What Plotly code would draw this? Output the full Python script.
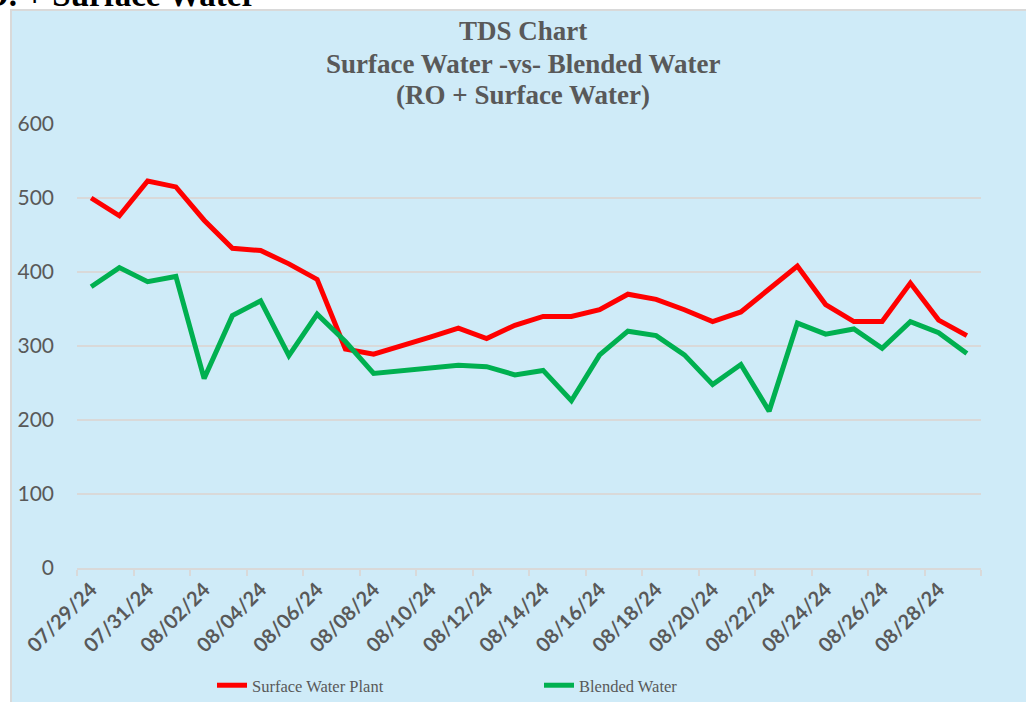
import plotly.graph_objects as go

dates = ["07/29/24", "07/30/24", "07/31/24", "08/01/24", "08/02/24", "08/03/24", "08/04/24", "08/05/24",
         "08/06/24", "08/07/24", "08/08/24", "08/09/24", "08/10/24", "08/11/24", "08/12/24", "08/13/24",
         "08/14/24", "08/15/24", "08/16/24", "08/17/24", "08/18/24", "08/19/24", "08/20/24", "08/21/24",
         "08/22/24", "08/23/24", "08/24/24", "08/25/24", "08/26/24", "08/27/24", "08/28/24", "08/29/24"]

surface_water_plant = [500, 476, 523, 515, 470, 432, 429, 411, 390, 296, 289, 300, 312, 324, 310, 328,
                       340, 340, 349, 370, 363, 349, 333, 346, 376, 408, 356, 333, 333, 385, 335, 314]

blended_water = [380, 406, 387, 394, 256, 341, 361, 287, 343, 306, 263, 267, 270, 274, 272, 261,
                 267, 226, 288, 320, 314, 288, 248, 275, 212, 331, 316, 323, 297, 333, 318, 290]

title_lines = ["TDS Chart", "Surface Water -vs- Blended Water", "(RO + Surface Water)"]

W, H = 1026, 702
L, R, T, B = 77, 981, 124, 568
PW, PH = R - L, B - T


def px(x):
    return (x - L) / PW


def py(y):
    return (B - y) / PH


GREY = "#595959"
GRID = "#D9D9D9"
SERIF = "Liberation Serif, Times New Roman, serif"

fig = go.Figure()
fig.add_trace(go.Scatter(x=dates, y=surface_water_plant, mode="lines", name="Surface Water Plant",
                         line=dict(color="#FF0000", width=5)))
fig.add_trace(go.Scatter(x=dates, y=blended_water, mode="lines", name="Blended Water",
                         line=dict(color="#00B050", width=5)))

annotations = [
    dict(text="<b>R.O. + Surface Water</b>", xref="paper", yref="paper",
         x=px(258), y=py(15), xanchor="right", yanchor="bottom", showarrow=False,
         font=dict(family=SERIF, size=33, color="black")),
]
for txt, top in zip(title_lines, [14, 47.5, 78]):
    annotations.append(dict(text="<b>" + txt + "</b>", xref="paper", yref="paper",
                            x=px(523), y=py(top), xanchor="center", yanchor="top",
                            showarrow=False, font=dict(family=SERIF, size=27, color=GREY)))

fig.update_layout(
    width=W, height=H,
    margin=dict(l=L, r=W - R, t=T, b=H - B, autoexpand=False),
    paper_bgcolor="white",
    plot_bgcolor="rgba(0,0,0,0)",
    shapes=[dict(type="rect", xref="paper", yref="paper",
                 x0=px(11), x1=px(1040), y0=py(10), y1=py(720),
                 fillcolor="#CFEBF8", line=dict(color=GRID, width=2), layer="below")],
    annotations=annotations,
    legend=dict(orientation="h", x=px(212), y=py(668), xanchor="left", yanchor="top",
                font=dict(family=SERIF, size=16.5, color=GREY),
                bgcolor="rgba(0,0,0,0)", entrywidth=282, entrywidthmode="pixels"),
    showlegend=True,
)

fig.update_xaxes(
    type="category", range=[-0.5, 31.5], tickmode="linear", tick0=0, dtick=2,
    tickson="boundaries", ticks="outside", ticklen=6, tickwidth=2, tickcolor=GRID,
    showline=True, linecolor=GRID, linewidth=2, showgrid=False,
    tickangle=-45, tickfont=dict(family="Lato", size=20, color=GREY, weight="bold"),
)
fig.update_yaxes(
    range=[0, 600], dtick=100, showgrid=True, gridcolor=GRID, gridwidth=2, zeroline=False,
    showline=False, ticks="", ticklabelstandoff=22,
    tickfont=dict(family="Lato", size=21, color=GREY),
)

fig.write_html("out.html", config={"displayModeBar": False},
               post_script="document.body.style.margin='0';document.body.style.padding='0';")
